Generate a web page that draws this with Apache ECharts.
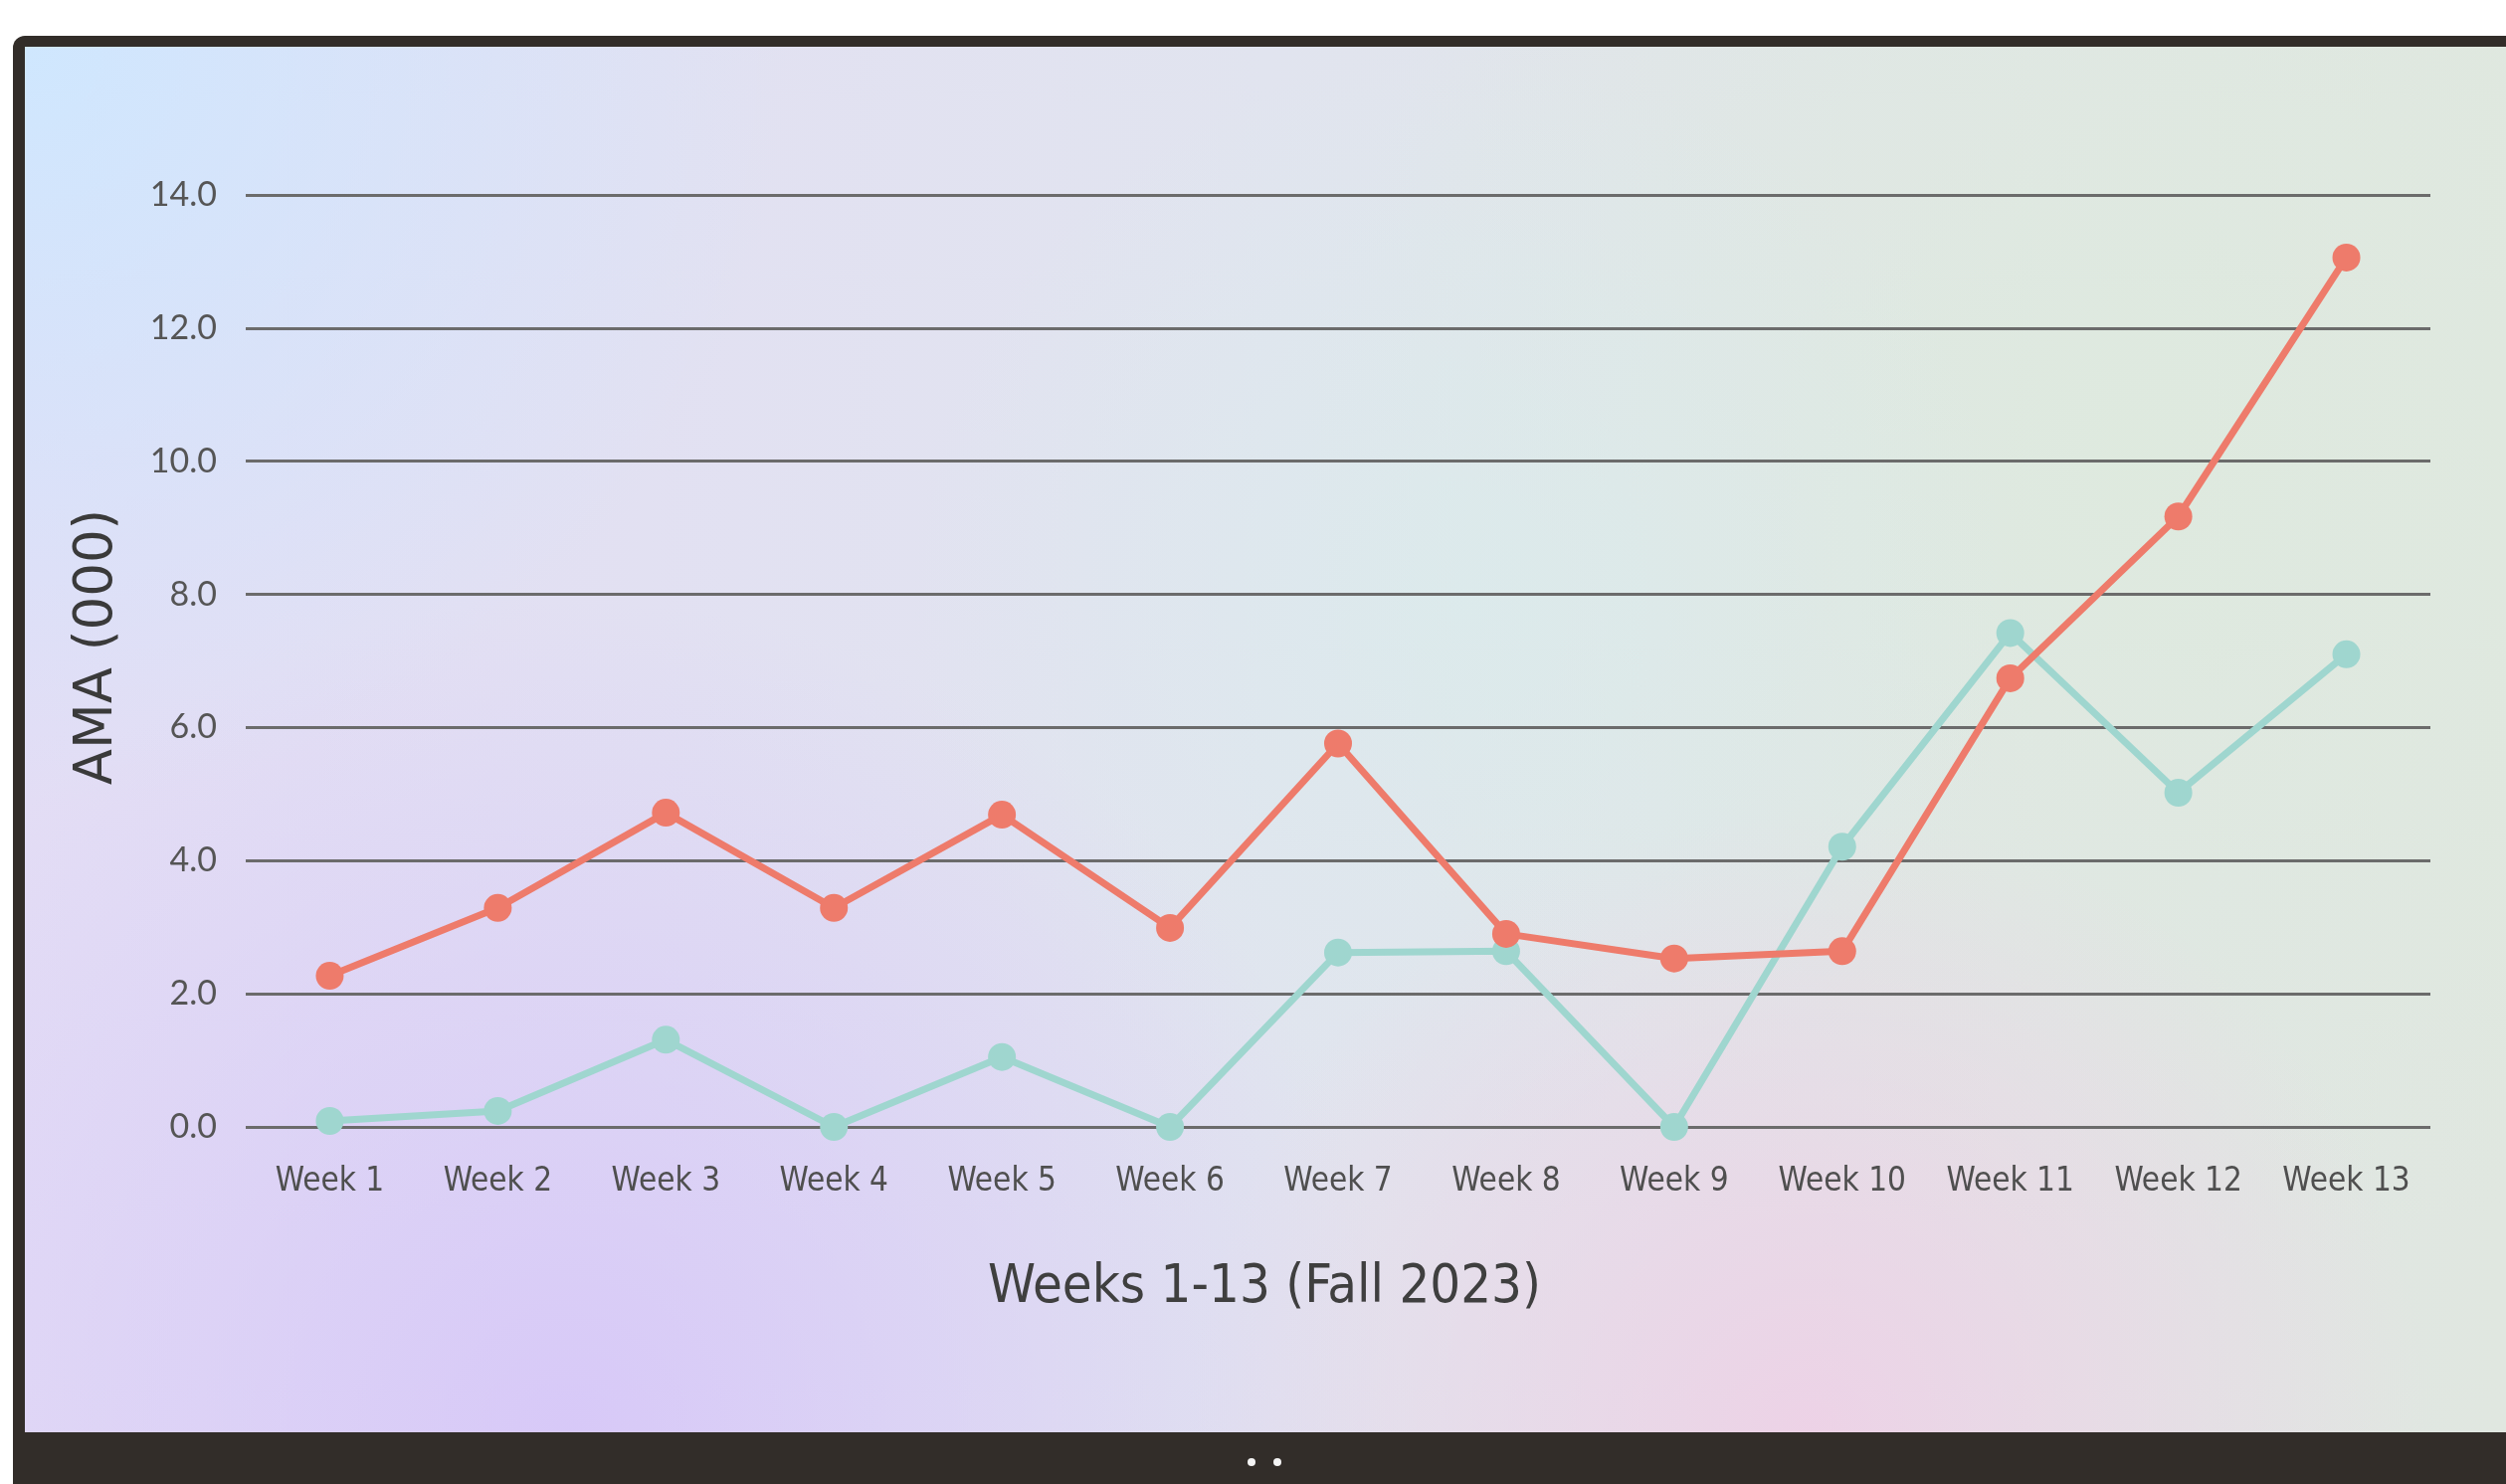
<!DOCTYPE html>
<html>
<head>
<meta charset="utf-8">
<script src="https://cdn.jsdelivr.net/npm/echarts@6/dist/echarts.min.js"></script>
<style>
html,body{margin:0;padding:0;background:#fff;}
#chart{width:2519px;height:1492px;}
</style>
</head>
<body>
<div id="chart"></div>
<script>
const weeks = ['Week 1','Week 2','Week 3','Week 4','Week 5','Week 6','Week 7','Week 8','Week 9','Week 10','Week 11','Week 12','Week 13'];
const tealValues = [0.09, 0.24, 1.31, 0.0, 1.05, 0.0, 2.62, 2.64, 0.0, 4.21, 7.42, 5.02, 7.10];
const redValues = [2.27, 3.29, 4.72, 3.29, 4.69, 2.99, 5.76, 2.90, 2.53, 2.64, 6.74, 9.17, 13.06];
const yTicks = [0, 14, 2]; // min, max, interval
const xAxisTitle = 'Weeks 1-13 (Fall 2023)';
const yAxisTitle = 'AMA (000)';

const chart = echarts.init(document.getElementById('chart'), null, {renderer:'canvas'});

function radial(cx, cy, r, color, a0) {
  return {type:'radial', x:cx, y:cy, r:r, colorStops:[
    {offset:0, color:'rgba(' + color + ',' + a0 + ')'},
    {offset:1, color:'rgba(' + color + ',0)'}
  ]};
}
const panel = {x:25, y:47, width:2494, height:1393};
function bgRect(fill, z) {
  return {type:'rect', silent:true, z:z, shape:Object.assign({}, panel), style:{fill:fill}};
}

const option = {
  backgroundColor:'#ffffff',
  animation:false,
  graphic:[
    {type:'rect', silent:true, z:-20, shape:{x:13, y:36, width:2530, height:1470, r:[12,0,0,0]}, style:{fill:'#322d29'}},
    bgRect({type:'linear', x:0, y:0, x2:1, y2:0, colorStops:[
      {offset:0, color:'#e3ddf5'},{offset:0.5, color:'#e1e4ef'},{offset:1, color:'#e0e7e0'}]}, -19),
    bgRect(radial(0.85, 0.3, 0.6, '222,234,222', 0.9), -18),
    bgRect(radial(0.58, 0.4, 0.4, '218,236,236', 0.7), -17),
    bgRect(radial(0.0, 0.0, 0.55, '207,231,254', 1), -16),
    bgRect(radial(0.22, 1.0, 0.6, '214,198,248', 0.9), -15),
    bgRect(radial(0.72, 1.0, 0.45, '238,208,230', 0.9), -14),
    {type:'circle', silent:true, z:-5, shape:{cx:1258, cy:1470, r:4}, style:{fill:'#f4f4f4'}},
    {type:'circle', silent:true, z:-5, shape:{cx:1284, cy:1470, r:4}, style:{fill:'#f4f4f4'}}
  ],
  grid:{left:247, right:76, top:196, bottom:359, containLabel:false},
  xAxis:{
    type:'category', data:weeks, boundaryGap:true,
    axisLine:{show:false}, axisTick:{show:false},
    axisLabel:{interval:0, color:'#4f4f4f', fontSize:33, fontFamily:'"DejaVu Sans Condensed", "DejaVu Sans", sans-serif', margin:39},
    name:xAxisTitle, nameLocation:'middle', nameGap:135,
    nameTextStyle:{color:'#3f3f3f', fontSize:54, fontFamily:'"DejaVu Sans Condensed", "DejaVu Sans", sans-serif', padding:[0,148,0,0]}
  },
  yAxis:{
    type:'value', min:yTicks[0], max:yTicks[1], interval:yTicks[2],
    axisLine:{show:false}, axisTick:{show:false},
    axisLabel:{color:'#555555', fontSize:34, fontFamily:'Lato, "Noto Sans", sans-serif', margin:29,
      formatter:function(v){return v.toFixed(1);}},
    splitLine:{show:true, lineStyle:{color:'#6b6b6b', width:3}},
    name:yAxisTitle, nameLocation:'middle', nameGap:122, nameRotate:90,
    nameTextStyle:{color:'#3a3a3a', fontSize:53, fontFamily:'"DejaVu Sans", sans-serif', padding:[0,0,0,28]}
  },
  series:[
    {type:'line', name:'Teal', data:tealValues, symbol:'circle', symbolSize:28,
      lineStyle:{color:'#9fd6cf', width:7}, itemStyle:{color:'#9fd6cf'}, z:3},
    {type:'line', name:'Red', data:redValues, symbol:'circle', symbolSize:28,
      lineStyle:{color:'#ee7b6b', width:7}, itemStyle:{color:'#ee7b6b'}, z:4}
  ]
};
chart.setOption(option);
</script>
</body>
</html>
